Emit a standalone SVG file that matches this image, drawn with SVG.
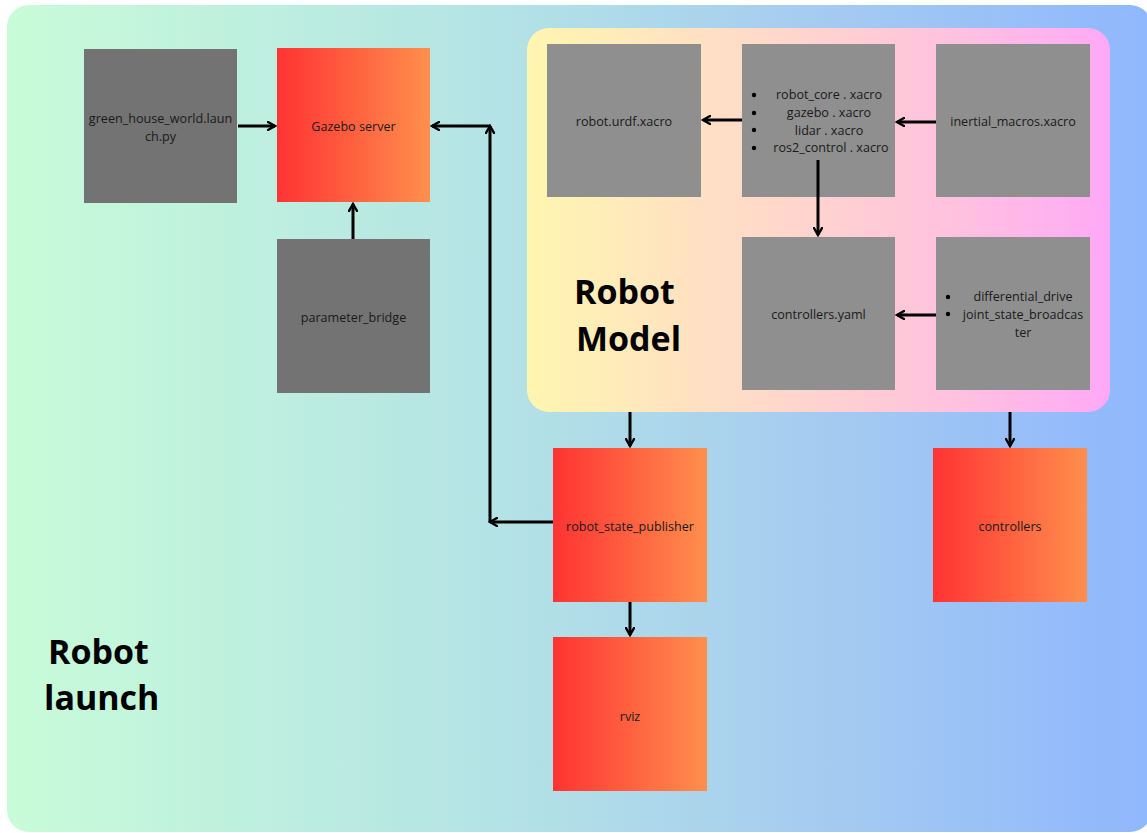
<svg xmlns="http://www.w3.org/2000/svg" width="1147" height="833" viewBox="0 0 1147 833">
<defs>
<linearGradient id="bg" x1="0" y1="0" x2="1" y2="0">
<stop offset="0" stop-color="#c8fcd8"/>
<stop offset="0.45" stop-color="#b3e1e6"/>
<stop offset="0.7" stop-color="#a6ccf0"/>
<stop offset="1" stop-color="#8fb7fd"/>
</linearGradient>
<linearGradient id="model" x1="0" y1="0" x2="1" y2="0">
<stop offset="0" stop-color="#fff6b0"/>
<stop offset="0.45" stop-color="#ffd6cc"/>
<stop offset="0.75" stop-color="#ffc0e0"/>
<stop offset="1" stop-color="#ffa9f7"/>
</linearGradient>
<linearGradient id="hot" x1="0" y1="0" x2="1" y2="0">
<stop offset="0" stop-color="#ff3333"/>
<stop offset="1" stop-color="#ff8f4d"/>
</linearGradient>
<marker id="ah" viewBox="0 0 10 10" refX="8" refY="5" markerWidth="10" markerHeight="10" markerUnits="userSpaceOnUse" orient="auto">
<path d="M1,1 L8,5 L1,9" fill="none" stroke="#000" stroke-width="2.4" stroke-linecap="round" stroke-linejoin="miter"/>
</marker>
</defs>
<style>
.dark{fill:#737373}
.light{fill:#8f8f8f}
.hot{fill:url(#hot)}
.t{font-family:"Open Sans","Noto Sans","Liberation Sans",sans-serif;font-size:12.6px;fill:#1a1a1a;text-anchor:middle;dominant-baseline:central}
.big{font-family:"Open Sans","Noto Sans","Liberation Sans",sans-serif;font-size:34px;font-weight:bold;fill:#000}
.c{fill:none;stroke:#000;stroke-width:3;marker-end:url(#ah)}
</style>
<rect x="0" y="0" width="1147" height="833" fill="#ffffff"/>
<rect x="7" y="5" width="1145" height="827" rx="22" fill="url(#bg)"/>
<text class="big" x="48" y="664">Robot</text>
<text class="big" x="44" y="710">launch</text>

<g id="robot-model">
<rect x="527" y="28" width="583" height="384" rx="22" fill="url(#model)"/>
<text class="big" x="574" y="304">Robot</text>
<text class="big" x="576" y="351">Model</text>
</g>

<g id="green-house-world">
<rect class="dark" x="84" y="49" width="153" height="154"/>
<text class="t" x="160.5" y="118">green_house_world.laun</text>
<text class="t" x="160.5" y="136">ch.py</text>
</g>
<g id="gazebo-server">
<rect class="hot" x="277" y="48" width="153" height="154"/>
<text class="t" x="353.5" y="126">Gazebo server</text>
</g>
<g id="parameter-bridge">
<rect class="dark" x="277" y="239" width="153" height="154"/>
<text class="t" x="353.5" y="317">parameter_bridge</text>
</g>
<g id="robot-urdf">
<rect class="light" x="547" y="44" width="154" height="153"/>
<text class="t" x="624" y="121">robot.urdf.xacro</text>
</g>
<g id="xacro-list">
<rect class="light" x="742" y="44" width="153" height="153"/>
<circle cx="754" cy="95" r="2.2" fill="#000"/>
<circle cx="754" cy="113" r="2.2" fill="#000"/>
<circle cx="754" cy="130" r="2.2" fill="#000"/>
<circle cx="754" cy="148" r="2.2" fill="#000"/>
<text class="t" x="829" y="94">robot_core . xacro</text>
<text class="t" x="829" y="112">gazebo . xacro</text>
<text class="t" x="829" y="130">lidar . xacro</text>
<text class="t" x="831" y="147">ros2_control . xacro</text>
</g>
<g id="inertial-macros">
<rect class="light" x="936" y="44" width="154" height="153"/>
<text class="t" x="1013" y="121">inertial_macros.xacro</text>
</g>
<g id="controllers-yaml">
<rect class="light" x="742" y="237" width="153" height="153"/>
<text class="t" x="818.5" y="314">controllers.yaml</text>
</g>
<g id="controller-list">
<rect class="light" x="936" y="237" width="154" height="153"/>
<circle cx="948" cy="297" r="2.2" fill="#000"/>
<circle cx="948" cy="314" r="2.2" fill="#000"/>
<text class="t" x="1023" y="296">differential_drive</text>
<text class="t" x="1023" y="314">joint_state_broadcas</text>
<text class="t" x="1023" y="332">ter</text>
</g>
<g id="robot-state-publisher">
<rect class="hot" x="553" y="448" width="154" height="154"/>
<text class="t" x="630" y="526">robot_state_publisher</text>
</g>
<g id="controllers">
<rect class="hot" x="933" y="448" width="154" height="154"/>
<text class="t" x="1010" y="526">controllers</text>
</g>
<g id="rviz">
<rect class="hot" x="553" y="637" width="154" height="154"/>
<text class="t" x="630" y="716">rviz</text>
</g>

<g id="connectors">
<line class="c" x1="238" y1="126" x2="275" y2="126"/>
<line class="c" x1="353" y1="239" x2="353" y2="204"/>
<line class="c" x1="553" y1="522" x2="490" y2="522"/>
<line class="c" x1="490" y1="522" x2="490" y2="126"/>
<line class="c" x1="490" y1="126" x2="432" y2="126"/>
<line class="c" x1="742" y1="120" x2="703" y2="120"/>
<line class="c" x1="936" y1="122" x2="897" y2="122"/>
<line class="c" x1="818" y1="160" x2="818" y2="235"/>
<line class="c" x1="936" y1="315" x2="897" y2="315"/>
<line class="c" x1="630" y1="412" x2="630" y2="446"/>
<line class="c" x1="1010" y1="412" x2="1010" y2="446"/>
<line class="c" x1="630" y1="602" x2="630" y2="635"/>
</g>
</svg>
